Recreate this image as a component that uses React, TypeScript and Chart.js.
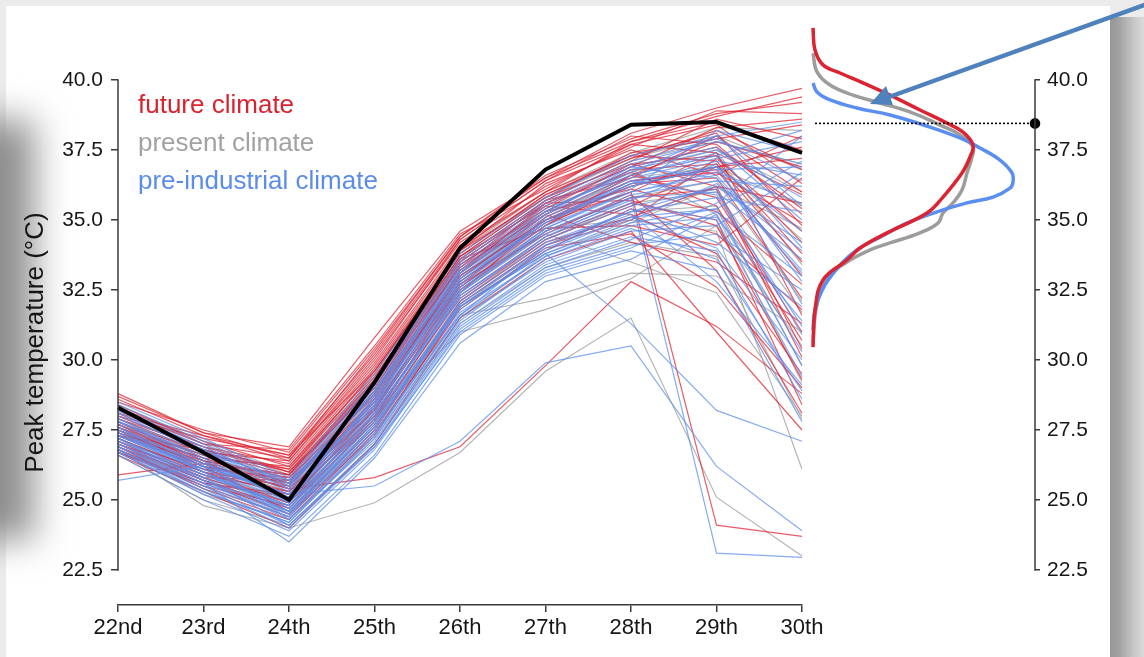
import React, { useEffect, useRef } from "react";
import { Chart, registerables } from "chart.js";

Chart.register(...registerables);

const FONT = "'Liberation Sans', Arial, Helvetica, sans-serif";

// ---------- data ----------
const DAYS = ["22nd", "23rd", "24th", "25th", "26th", "27th", "28th", "29th", "30th"];
const Y_TICKS = [22.5, 25, 27.5, 30, 32.5, 35, 37.5, 40];
const OBSERVED = [28.3, 26.7, 25.0, 29.2, 34.0, 36.8, 38.4, 38.5, 37.4];
const OBSERVED_PEAK = 38.45;

const FUTURE_RUNS: number[][] = [
  [28.8, 27.4, 26.9, 30.8, 34.6, 36.5, 38.1, 39.0, 39.7],
  [28.5, 27.5, 26.7, 30.4, 34.4, 36.6, 37.9, 38.8, 39.2],
  [28.2, 27.0, 26.5, 30.1, 34.2, 36.2, 37.6, 38.9, 38.8],
  [27.9, 26.9, 26.3, 29.8, 34.0, 36.0, 37.8, 38.5, 37.5],
  [28.0, 27.2, 26.6, 29.6, 33.8, 35.9, 37.2, 38.2, 36.8],
  [27.6, 26.6, 26.1, 29.4, 33.7, 35.8, 37.4, 37.9, 38.4],
  [27.8, 26.4, 25.9, 29.2, 33.5, 35.6, 36.9, 37.6, 35.4],
  [27.3, 26.8, 26.0, 29.0, 33.4, 35.4, 37.0, 37.3, 34.2],
  [27.5, 26.2, 25.6, 28.9, 33.3, 35.7, 36.5, 38.0, 36.0],
  [27.1, 26.1, 25.8, 28.7, 33.1, 35.3, 36.8, 37.0, 33.5],
  [27.4, 26.5, 25.5, 28.6, 33.0, 35.0, 36.2, 36.9, 37.2],
  [27.0, 25.9, 25.3, 28.5, 32.9, 35.2, 36.6, 35.8, 31.0],
  [26.9, 25.8, 25.7, 28.3, 32.8, 34.9, 36.0, 37.4, 35.9],
  [27.7, 26.3, 25.4, 28.2, 32.6, 34.8, 36.3, 36.5, 32.2],
  [26.8, 25.6, 25.1, 28.0, 32.5, 34.6, 35.8, 36.1, 30.1],
  [27.2, 26.0, 25.2, 28.4, 33.2, 35.5, 35.2, 33.8, 29.5],
  [26.7, 25.5, 24.8, 27.8, 32.3, 34.4, 35.6, 35.0, 28.4],
  [27.9, 26.7, 25.9, 29.1, 33.6, 34.7, 34.8, 34.1, 36.5],
  [28.3, 27.1, 26.2, 29.5, 33.9, 36.3, 37.5, 36.6, 38.0],
  [27.3, 26.2, 24.6, 27.6, 32.0, 34.1, 35.0, 37.2, 34.6],
  [26.9, 25.4, 24.3, 27.4, 31.8, 34.0, 34.5, 32.6, 29.0],
  [28.6, 27.3, 26.4, 30.0, 34.3, 36.4, 38.0, 37.7, 35.2],
  [27.6, 26.4, 25.0, 28.1, 32.4, 35.1, 36.4, 36.8, 33.0],
  [27.0, 25.7, 24.5, 27.3, 31.9, 33.9, 35.4, 34.5, 31.8],
  [28.1, 26.9, 26.0, 29.3, 33.6, 35.7, 37.1, 38.6, 37.9],
  [26.6, 25.3, 24.0, 27.0, 31.5, 33.6, 34.6, 31.0, 27.5],
  [27.7, 26.6, 25.6, 28.8, 33.1, 35.6, 36.7, 35.5, 30.7],
  [27.2, 26.0, 24.9, 27.9, 32.7, 34.5, 35.9, 33.2, 28.1],
  [28.4, 27.0, 26.8, 30.5, 34.5, 36.1, 37.7, 38.4, 36.3],
  [27.8, 26.7, 26.4, 29.9, 34.1, 36.0, 37.3, 37.1, 33.8],
  [27.4, 26.3, 25.9, 29.3, 33.7, 35.5, 36.9, 38.3, 38.6],
  [27.0, 26.0, 25.5, 28.8, 33.4, 35.3, 36.1, 35.3, 32.7],
  [26.7, 25.6, 25.2, 28.2, 32.7, 35.0, 36.4, 36.7, 34.9],
  [28.1, 27.3, 26.6, 30.2, 34.3, 36.4, 37.7, 37.4, 31.6],
  [27.5, 26.5, 26.2, 29.7, 33.9, 35.8, 37.0, 36.2, 30.4],
  [26.9, 25.7, 24.7, 27.9, 32.2, 34.3, 35.5, 36.9, 37.6],
  [27.6, 26.2, 25.7, 29.0, 33.5, 35.6, 35.7, 34.8, 29.3],
  [28.7, 27.4, 26.5, 30.3, 34.4, 36.5, 37.8, 38.7, 39.4],
  [27.1, 25.8, 24.9, 28.3, 32.8, 34.8, 36.6, 37.8, 36.9],
  [27.3, 26.4, 25.8, 29.2, 33.3, 35.2, 34.2, 33.5, 31.3],
  [26.8, 25.5, 24.4, 27.5, 32.1, 34.2, 35.1, 36.2, 35.6],
  [28.0, 26.8, 26.1, 29.6, 33.8, 35.9, 37.3, 38.1, 34.8],
  [25.9, 26.3, 25.4, 25.8, 26.9, 29.8, 32.8, 31.2, 28.8],
  [27.5, 26.1, 25.3, 28.6, 33.0, 35.0, 36.0, 24.1, 23.7],
];

const PRESENT_RUNS: number[][] = [
  [28.4, 27.1, 26.0, 29.6, 33.9, 36.0, 37.4, 38.3, 38.2],
  [27.9, 26.6, 25.5, 28.9, 33.2, 35.4, 36.7, 37.5, 36.0],
  [27.5, 26.2, 25.2, 28.5, 32.8, 35.0, 36.2, 37.0, 34.3],
  [27.1, 25.8, 24.8, 28.0, 32.4, 34.6, 35.8, 36.4, 32.1],
  [26.8, 25.4, 24.5, 27.5, 31.9, 34.1, 35.3, 35.5, 29.8],
  [26.6, 25.0, 24.1, 27.0, 31.3, 33.3, 34.2, 33.7, 27.9],
  [28.0, 26.8, 25.7, 29.2, 33.6, 35.7, 37.1, 37.8, 37.0],
  [27.3, 26.0, 25.0, 28.2, 32.6, 34.7, 35.0, 34.6, 26.1],
  [27.7, 26.4, 25.4, 28.7, 33.0, 35.2, 36.5, 36.9, 35.5],
  [26.9, 25.6, 24.6, 27.7, 31.6, 32.2, 33.1, 33.0, 31.0],
  [27.2, 25.9, 24.9, 28.0, 31.0, 31.8, 32.9, 34.8, 30.5],
  [28.2, 27.0, 25.9, 29.4, 33.7, 35.8, 37.2, 38.0, 36.8],
  [27.6, 26.3, 25.3, 28.6, 32.9, 35.1, 36.6, 37.3, 33.4],
  [27.0, 25.7, 24.7, 27.8, 32.1, 34.3, 35.6, 36.0, 31.7],
  [27.8, 26.5, 25.6, 28.8, 33.1, 35.3, 36.8, 35.2, 29.2],
  [26.7, 25.2, 24.3, 27.2, 31.5, 33.8, 34.9, 36.2, 34.7],
  [27.4, 26.1, 25.1, 28.3, 32.5, 34.5, 33.5, 32.4, 28.0],
  [26.8, 24.8, 24.0, 24.9, 26.7, 29.6, 31.5, 25.1, 23.0],
];

const PREINDUSTRIAL_RUNS: number[][] = [
  [28.5, 27.2, 25.8, 29.5, 33.8, 35.8, 37.3, 38.0, 38.5],
  [28.3, 27.0, 25.6, 29.2, 33.5, 35.6, 37.0, 37.8, 37.0],
  [28.0, 26.8, 25.4, 29.0, 33.2, 35.3, 36.8, 37.5, 35.8],
  [27.8, 26.6, 25.3, 28.8, 33.0, 35.1, 36.5, 37.2, 37.8],
  [27.6, 26.3, 25.1, 28.6, 32.9, 34.9, 36.2, 36.9, 34.6],
  [27.4, 26.1, 25.0, 28.4, 32.7, 34.8, 36.0, 36.6, 33.2],
  [27.9, 26.5, 24.9, 28.2, 32.6, 34.6, 35.9, 36.4, 36.2],
  [27.2, 25.9, 24.8, 28.0, 32.4, 34.5, 35.7, 37.0, 32.0],
  [27.5, 26.0, 24.7, 27.9, 32.3, 34.3, 35.5, 36.1, 30.9],
  [27.0, 25.7, 24.6, 27.7, 32.1, 34.2, 35.3, 35.8, 35.3],
  [27.3, 26.2, 24.5, 27.6, 32.0, 34.0, 35.1, 35.4, 29.8],
  [26.9, 25.5, 24.4, 27.5, 31.9, 33.8, 35.0, 36.3, 33.9],
  [27.7, 26.4, 24.3, 27.3, 31.7, 33.7, 34.8, 35.1, 31.4],
  [26.8, 25.3, 24.2, 27.2, 31.5, 33.5, 34.6, 34.8, 36.7],
  [27.1, 25.8, 24.1, 27.0, 31.3, 33.4, 34.4, 33.9, 28.6],
  [26.7, 25.2, 23.9, 26.8, 31.1, 33.2, 34.1, 34.5, 32.5],
  [26.6, 25.0, 23.7, 26.6, 30.9, 33.0, 33.9, 33.2, 27.8],
  [28.2, 26.9, 25.5, 28.9, 33.3, 35.4, 36.6, 37.4, 34.0],
  [27.6, 26.2, 25.2, 28.5, 32.8, 35.0, 36.3, 36.8, 36.9],
  [26.9, 25.6, 23.5, 26.5, 30.6, 32.8, 33.6, 35.2, 30.3],
  [28.1, 26.7, 25.7, 28.3, 32.5, 34.7, 36.1, 38.2, 37.4],
  [27.0, 25.6, 24.4, 27.4, 31.6, 34.1, 35.2, 32.8, 29.1],
  [27.4, 26.0, 24.7, 28.1, 32.2, 34.4, 35.8, 36.0, 33.6],
  [26.8, 25.4, 24.0, 26.9, 31.2, 33.3, 34.3, 35.6, 38.0],
  [27.8, 26.4, 25.0, 28.7, 33.1, 35.2, 36.9, 37.6, 35.0],
  [27.2, 25.9, 24.6, 27.8, 31.8, 33.9, 35.4, 34.2, 31.9],
  [28.4, 27.1, 25.7, 29.3, 33.6, 35.7, 37.1, 37.9, 36.4],
  [28.1, 26.9, 25.5, 29.1, 33.4, 35.5, 36.9, 36.5, 33.1],
  [27.9, 26.7, 25.4, 28.9, 33.1, 35.2, 36.6, 37.3, 38.2],
  [27.5, 26.3, 25.2, 28.6, 32.8, 34.9, 36.4, 35.9, 31.2],
  [27.3, 26.1, 24.9, 28.3, 32.5, 34.7, 36.0, 36.7, 35.6],
  [27.1, 25.9, 24.8, 28.1, 32.3, 34.4, 35.6, 35.0, 29.4],
  [26.9, 25.6, 24.5, 27.7, 32.0, 34.1, 35.3, 36.2, 34.2],
  [26.7, 25.3, 24.2, 27.3, 31.6, 33.7, 34.9, 35.4, 37.1],
  [27.6, 26.0, 24.6, 27.9, 31.9, 33.9, 35.1, 34.0, 30.0],
  [27.8, 26.5, 25.0, 28.4, 32.7, 34.9, 36.3, 37.1, 36.6],
  [26.8, 25.5, 24.1, 26.9, 31.0, 33.1, 34.0, 35.3, 33.0],
  [27.2, 25.7, 24.3, 27.1, 31.4, 33.6, 34.7, 33.6, 28.9],
  [28.2, 26.8, 25.6, 28.8, 33.2, 35.3, 36.7, 38.0, 35.5],
  [27.4, 26.2, 25.1, 28.5, 32.9, 35.0, 36.4, 36.9, 32.8],
  [25.7, 26.2, 25.2, 25.5, 27.1, 29.9, 30.5, 26.2, 23.9],
  [27.3, 26.0, 24.8, 28.1, 32.4, 34.6, 35.8, 23.1, 22.95],
  [27.0, 25.8, 24.5, 27.6, 31.9, 33.8, 31.3, 28.2, 27.1],
];

// density curves of peak temperature (relative density, temperature)
const FUTURE_DENS_T = [41.86, 41.07, 40.54, 40.25, 39.9, 39.46, 38.93, 38.46, 38.14, 37.68, 37.25, 36.68, 35.82, 35.25, 34.54, 34.0, 33.57, 32.86, 31.79, 30.46];
const FUTURE_DENS = [0, 0.01, 0.05, 0.135, 0.25, 0.385, 0.535, 0.67, 0.75, 0.8, 0.785, 0.745, 0.65, 0.57, 0.37, 0.235, 0.17, 0.05, 0.01, 0];
const PRESENT_DENS_T = [40.96, 40.29, 39.82, 39.46, 39.18, 38.82, 38.39, 38.04, 37.61, 37.25, 36.68, 36.07, 35.61, 35.25, 34.89, 34.54, 34.18, 33.93, 33.5, 32.86, 31.8, 30.6];
const PRESENT_DENS = [0, 0.02, 0.085, 0.2, 0.335, 0.5, 0.635, 0.735, 0.8, 0.795, 0.77, 0.745, 0.7, 0.65, 0.625, 0.535, 0.385, 0.285, 0.17, 0.06, 0.015, 0];
const PREIND_DENS_T = [39.89, 39.57, 39.29, 39.0, 38.75, 38.32, 37.93, 37.57, 37.14, 36.68, 36.36, 36.14, 35.82, 35.61, 35.29, 34.89, 34.39, 34.0, 33.5, 32.68, 31.79, 31.07];
const PREIND_DENS = [0, 0.02, 0.085, 0.22, 0.385, 0.585, 0.735, 0.835, 0.935, 0.995, 1.0, 0.985, 0.9, 0.77, 0.62, 0.47, 0.335, 0.235, 0.15, 0.06, 0.01, 0];

const LEGEND = [
  { text: "future climate", color: "#d9232f" },
  { text: "present climate", color: "#a2a2a2" },
  { text: "pre-industrial climate", color: "#5b8ceb" },
];

const RED = "rgba(222,35,50,0.74)";
const GREY = "rgba(160,160,160,0.78)";
const BLUE = "rgba(92,142,236,0.74)";

const AXIS_COLOR = "#3a3a3a";
const TEXT_COLOR = "#161616";

function runDatasets(runs: number[][], color: string, label: string) {
  return runs.map((r, i) => ({
    label: `${label} ${i + 1}`,
    data: r,
    borderColor: color,
    borderWidth: 1.2,
    pointRadius: 0,
    tension: 0,
    fill: false,
  }));
}

const yAxisLine = (side: "left" | "right") => ({
  id: "yAxisLine" + side,
  afterDraw(chart: any) {
    const y = chart.scales.y;
    const x = side === "left" ? chart.chartArea.left : chart.chartArea.right;
    const c = chart.ctx;
    c.save();
    c.strokeStyle = AXIS_COLOR;
    c.lineWidth = 1.5;
    c.beginPath();
    c.moveTo(x, y.getPixelForValue(Y_TICKS[Y_TICKS.length - 1]) - 0.75);
    c.lineTo(x, y.getPixelForValue(Y_TICKS[0]) + 0.75);
    c.stroke();
    c.restore();
  },
});

const legendText = {
  id: "legendText",
  afterDraw(chart: any) {
    const c = chart.ctx;
    const x0 = chart.chartArea.left + 20;
    c.save();
    c.font = `26px ${FONT}`;
    c.textBaseline = "alphabetic";
    c.textAlign = "left";
    LEGEND.forEach((l, i) => {
      c.fillStyle = l.color;
      c.fillText(l.text, x0, 113 + i * 38);
    });
    c.restore();
  },
};

const yTickCfg = {
  afterBuildTicks: (s: any) => {
    s.ticks = Y_TICKS.map((v) => ({ value: v }));
  },
};

const yGrid = (len: number) => ({
  display: true,
  drawOnChartArea: false,
  drawTicks: true,
  tickLength: len,
  color: AXIS_COLOR,
  lineWidth: 1.5,
});

export default function App() {
  const mainRef = useRef<HTMLCanvasElement>(null);
  const densRef = useRef<HTMLCanvasElement>(null);

  useEffect(() => {
    document.body.style.margin = "0";
    Chart.defaults.font.family = FONT;

    const datasets: any[] = [
      {
        label: "observed",
        data: OBSERVED,
        borderColor: "#000",
        borderWidth: 4,
        pointRadius: 0,
        tension: 0,
        fill: false,
      },
      ...runDatasets(PREINDUSTRIAL_RUNS, BLUE, "pre-industrial"),
      ...runDatasets(FUTURE_RUNS, RED, "future"),
      ...runDatasets(PRESENT_RUNS, GREY, "present"),
    ];

    const main = new Chart(mainRef.current!, {
      type: "line",
      data: { labels: DAYS, datasets },
      options: {
        responsive: false,
        animation: false,
        layout: { padding: { top: 80, right: 28, left: 0, bottom: 0 } },
        plugins: { legend: { display: false }, tooltip: { enabled: false } },
        scales: {
          x: {
            type: "category",
            offset: false,
            grid: yGrid(7),
            border: { display: true, color: AXIS_COLOR, width: 1.5 },
            ticks: {
              color: TEXT_COLOR,
              font: { size: 22 },
              padding: 3,
              maxRotation: 0,
              autoSkip: false,
            },
            afterFit: (s: any) => {
              s.height = 52;
            },
          } as any,
          y: {
            type: "linear",
            min: 21.25,
            max: 40,
            bounds: "data",
            ...yTickCfg,
            grid: yGrid(7),
            border: { display: false },
            ticks: {
              color: TEXT_COLOR,
              font: { size: 21 },
              padding: 8,
              callback: (v: any) => Number(v).toFixed(1),
            },
            title: {
              display: true,
              text: "Peak temperature (°C)",
              color: TEXT_COLOR,
              font: { size: 26 },
              padding: { top: 20, bottom: 0 },
            },
            afterFit: (s: any) => {
              s.width = 118;
            },
          } as any,
        },
      },
      plugins: [yAxisLine("left"), legendText],
    });

    const toPts = (d: number[], t: number[]) => d.map((v, i) => ({ x: v, y: t[i] }));
    const densDs = (d: number[], t: number[], color: string, label: string) => ({
      label,
      data: toPts(d, t),
      showLine: true,
      borderColor: color,
      borderWidth: 3.5,
      pointRadius: 0,
      tension: 0.4,
      clip: false,
      fill: false,
    });

    const dens = new Chart(densRef.current!, {
      type: "scatter",
      data: {
        datasets: [
          {
            label: "observed peak",
            data: [
              { x: 0.01, y: OBSERVED_PEAK },
              { x: 1.11, y: OBSERVED_PEAK },
            ],
            showLine: true,
            borderColor: "#000",
            borderWidth: 1.6,
            borderDash: [2, 2],
            pointRadius: [0, 4.5],
            pointBackgroundColor: "#000",
            pointBorderColor: "#000",
            clip: false,
          } as any,
          densDs(FUTURE_DENS, FUTURE_DENS_T, "#dc2332", "future density"),
          densDs(PREIND_DENS, PREIND_DENS_T, "#5a8ef0", "pre-industrial density"),
          densDs(PRESENT_DENS, PRESENT_DENS_T, "#9c9c9c", "present density"),
        ],
      },
      options: {
        responsive: false,
        animation: false,
        layout: { padding: { left: 13, top: 80, bottom: 52, right: 0 } },
        plugins: { legend: { display: false }, tooltip: { enabled: false } },
        scales: {
          x: { type: "linear", display: false, min: 0, max: 1.11 },
          y: {
            type: "linear",
            position: "right",
            min: 21.25,
            max: 40,
            bounds: "data",
            ...yTickCfg,
            grid: yGrid(5),
            border: { display: false },
            ticks: {
              color: TEXT_COLOR,
              font: { size: 21 },
              padding: 7,
              callback: (v: any) => Number(v).toFixed(1),
            },
            afterFit: (s: any) => {
              s.width = 109;
            },
          } as any,
        },
      },
      plugins: [yAxisLine("right")],
    });

    return () => {
      main.destroy();
      dens.destroy();
    };
  }, []);

  return (
    <div
      style={{
        position: "fixed",
        left: 0,
        top: 0,
        width: 1144,
        height: 657,
        background: "#ececec",
        overflow: "hidden",
      }}
    >
      {/* white slide panel */}
      <div style={{ position: "absolute", left: 6, top: 6, width: 1104, height: 660, background: "#fff" }} />
      {/* left shadow */}
      <div
        style={{
          position: "absolute",
          left: -48,
          top: 120,
          width: 82,
          height: 420,
          background: "#8e8e8e",
          filter: "blur(18px)",
        }}
      />
      {/* right shadow bars */}
      <div
        style={{
          position: "absolute",
          left: 1110,
          top: 17,
          width: 34,
          height: 640,
          background: "linear-gradient(to right, #979797 0px, #9f9f9f 8px, #b3b3b3 16px, #c8c8c8 24px, #dadada 34px)",
        }}
      />
      <canvas ref={mainRef} width={830} height={657} style={{ position: "absolute", left: 0, top: 0 }} />
      <canvas ref={densRef} width={344} height={657} style={{ position: "absolute", left: 800, top: 0 }} />
      <svg width={1144} height={657} style={{ position: "absolute", left: 0, top: 0, pointerEvents: "none" }}>
        <line x1={1150} y1={3} x2={889} y2={97} stroke="#4f81bd" strokeWidth={4.5} />
        <polygon points="870,104 893,105 886,86" fill="#4f81bd" />
      </svg>
    </div>
  );
}
